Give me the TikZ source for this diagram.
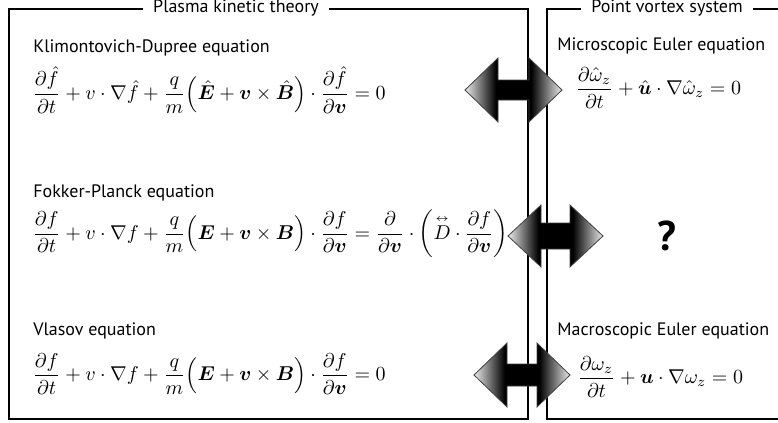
\documentclass[tikz,border=0pt]{standalone}
\usepackage{amsmath,amssymb,bm}
\usepackage{fontspec}
\setsansfont{PT Sans}
\usetikzlibrary{positioning}

\pgfdeclarehorizontalshading{arrowshade}{100bp}{color(0bp)=(black!8); color(25bp)=(black!8); color(41bp)=(black); color(59bp)=(black); color(75bp)=(black!8); color(100bp)=(black!8)}

\tikzset{
  boxline/.style={line width=0.6pt},
  boxtitle/.style={fill=white, inner xsep=5pt, inner ysep=1pt, font=\sffamily\fontsize{9}{11}\selectfont},
  eqlabel/.style={anchor=base west, inner sep=0pt, font=\sffamily\fontsize{9}{11}\selectfont},
  eqn/.style={anchor=west, inner sep=0pt},
  bigarrow/.style={shading=arrowshade, draw=black!75, line width=0.4pt},
}

% double block arrow: x0, x1, centre y, head half height, shaft half height
\newcommand{\dblarrow}[5]{%
  \draw[bigarrow] (#1,#3) -- ({#1+33},{#3-#4}) -- ({#1+33},{#3-#5}) -- ({#2-33},{#3-#5})
    -- ({#2-33},{#3-#4}) -- (#2,#3) -- ({#2-33},{#3+#4}) -- ({#2-33},{#3+#5})
    -- ({#1+33},{#3+#5}) -- ({#1+33},{#3+#4}) -- cycle;}

\begin{document}
\begin{tikzpicture}[x=0.5pt, y=-0.5pt]
  \useasboundingbox (0,0) rectangle (778,423);

  % Left frame - plasma kinetic theory
  \draw[boxline] (9,9) rectangle (528,419);
  \node[boxtitle] (plasma) at (236,8) {Plasma kinetic theory};

  % Right frame - point vortex system (open at the right)
  \draw[boxline] (778,9) -- (547,9) -- (547,419) -- (778,419);
  \node[boxtitle] (vortex) at (667,8) {Point vortex system};

  % Klimontovich-Dupree equation
  \node[eqlabel] (kdlabel) at (33,53) {Klimontovich-Dupree equation};
  \node[eqn] (kdeq) at (32,90) {$\displaystyle
    \frac{\partial\hat f}{\partial t} + v\cdot\nabla\hat f
    + \frac{q}{m}\Bigl(\hat{\bm E} + \bm v\times\hat{\bm B}\Bigr)\cdot
    \frac{\partial\hat f}{\partial\bm v} = 0$};

  % Fokker-Planck equation
  \node[eqlabel] (fplabel) at (33,197) {Fokker-Planck equation};
  \node[eqn] (fpeq) at (32,234) {$\displaystyle
    \frac{\partial f}{\partial t} + v\cdot\nabla f
    + \frac{q}{m}\Bigl(\bm E + \bm v\times\bm B\Bigr)\cdot
    \frac{\partial f}{\partial\bm v}
    = \frac{\partial}{\partial\bm v}\cdot
    \left(\overset{\scriptscriptstyle\leftrightarrow}{D}\cdot\frac{\partial f}{\partial\bm v}\right)$};

  % Vlasov equation
  \node[eqlabel] (vlabel) at (33,335) {Vlasov equation};
  \node[eqn] (veq) at (32,374) {$\displaystyle
    \frac{\partial f}{\partial t} + v\cdot\nabla f
    + \frac{q}{m}\Bigl(\bm E + \bm v\times\bm B\Bigr)\cdot
    \frac{\partial f}{\partial\bm v} = 0$};

  % Microscopic Euler equation
  \node[eqlabel] (miclabel) at (557,50) {Microscopic Euler equation};
  \node[eqn] (miceq) at (575,88) {$\displaystyle
    \frac{\partial\hat\omega_z}{\partial t} + \hat{\bm u}\cdot\nabla\hat\omega_z = 0$};

  % unknown counterpart
  \node[font=\sffamily\bfseries\huge] (unknown) at (667,236) {?};

  % Macroscopic Euler equation
  \node[eqlabel] (maclabel) at (557,335) {Macroscopic Euler equation};
  \node[eqn] (maceq) at (577,377) {$\displaystyle
    \frac{\partial\omega_z}{\partial t} + \bm u\cdot\nabla\omega_z = 0$};

  % Correspondence arrows
  \dblarrow{465}{562}{90}{32}{10}
  \dblarrow{508}{603}{236}{31}{13}
  \dblarrow{474}{570}{375}{32}{11}
\end{tikzpicture}
\end{document}
